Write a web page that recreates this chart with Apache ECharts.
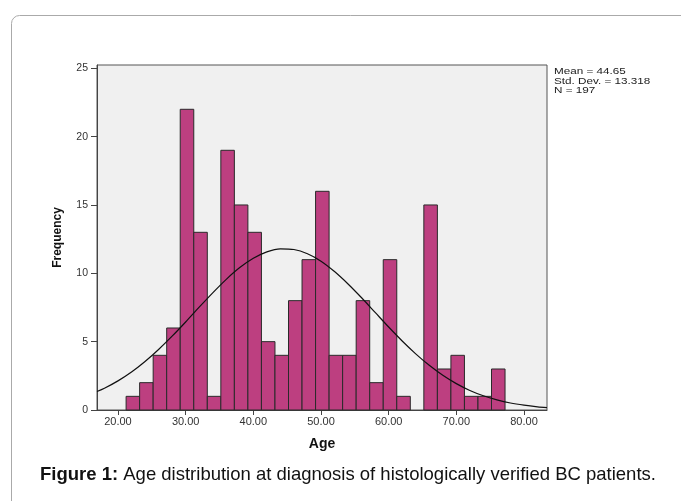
<!DOCTYPE html>
<html>
<head>
<meta charset="utf-8">
<script src="https://cdn.jsdelivr.net/npm/echarts@6/dist/echarts.min.js"></script>
<style>
  html, body { margin: 0; padding: 0; background: #fff; }
  #chart { width: 681px; height: 501px; }
</style>
</head>
<body>
<div id="chart"></div>
<script>
// bin lower edges (width 2 years) and counts
const binStart = [21.2, 23.2, 25.2, 27.2, 29.2, 31.2, 33.2, 35.2, 37.2, 39.2, 41.2, 43.2, 45.2, 47.2,
                  49.2, 51.2, 53.2, 55.2, 57.2, 59.2, 61.2, 63.2, 65.2, 67.2, 69.2, 71.2, 73.2, 75.2];
const binCount = [1, 2, 4, 6, 22, 13, 1, 19, 15, 13, 5, 4, 8, 11,
                  16, 4, 4, 8, 2, 11, 1, 0, 15, 3, 4, 1, 1, 3];
const binWidth = 2;

// normal curve, points
const curveAge  = [16.9, 18, 20, 22, 24, 26, 28, 30, 32, 34, 36, 38, 40, 42, 44, 46, 48, 50,
                   52, 54, 56, 58, 60, 62, 64, 66, 68, 70, 72, 74, 76, 78, 80, 82, 83.4];
const curveFreq = [1.35, 1.59, 2.13, 2.78, 3.55, 4.43, 5.40, 6.44, 7.52, 8.57, 9.56, 10.42, 11.10, 11.57, 11.79, 11.74, 11.43, 10.89,
                   10.13, 9.22, 8.21, 7.14, 6.07, 5.05, 4.11, 3.27, 2.54, 1.93, 1.43, 1.04, 0.74, 0.51, 0.35, 0.23, 0.17];

const xTicks = [20, 30, 40, 50, 60, 70, 80];
const yTicks = [0, 5, 10, 15, 20, 25];
const stats = ['Mean = 44.65', 'Std. Dev. = 13.318', 'N = 197'];

let bars = binStart.map(function (s, i) { return [s, s + binWidth, binCount[i]]; });
let curve = curveAge.map(function (a, i) { return [a, curveFreq[i]]; });

let myChart = echarts.init(document.getElementById('chart'));
let option = {
  animation: false,
  textStyle: { fontFamily: 'Liberation Sans, Arial, sans-serif' },
  grid: {
    left: 97, right: 134, top: 65, bottom: 91,
    show: true,
    backgroundColor: '#f0f0f0',
    borderColor: '#555',
    borderWidth: 1
  },
  xAxis: {
    type: 'value',
    min: 16.9, max: 83.4,
    name: 'Age',
    nameLocation: 'middle',
    nameGap: 27,
    nameTextStyle: { fontSize: 14, fontWeight: 'bold', color: '#111' },
    axisLine: { show: true, lineStyle: { color: '#444' } },
    axisTick: { show: true, length: 5, lineStyle: { color: '#444' }, customValues: xTicks },
    axisLabel: {
      customValues: xTicks, fontSize: 11, color: '#333', margin: 6,
      formatter: function (v) { return v.toFixed(2); }
    },
    splitLine: { show: false }
  },
  yAxis: {
    type: 'value',
    min: 0, max: 25.24,
    name: 'Frequency',
    nameLocation: 'middle',
    nameGap: 33,
    nameTextStyle: { fontSize: 12, fontWeight: 'bold', color: '#111' },
    axisLine: { show: true, lineStyle: { color: '#444' } },
    axisTick: { show: true, length: 6, lineStyle: { color: '#444' }, customValues: yTicks },
    axisLabel: { customValues: yTicks, fontSize: 10.5, color: '#333', margin: 9 },
    splitLine: { show: false }
  },
  series: [
    {
      type: 'custom',
      data: bars,
      encode: { x: [0, 1], y: 2 },
      renderItem: function (params, api) {
        let h = api.value(2);
        if (!h) return;
        let p0 = api.coord([api.value(0), 0]);
        let p1 = api.coord([api.value(1), h]);
        return {
          type: 'rect',
          shape: { x: p0[0], y: p1[1], width: p1[0] - p0[0], height: p0[1] - p1[1] },
          style: { fill: '#bd3f80', stroke: '#2a2a2a', lineWidth: 1 }
        };
      },
      z: 2
    },
    {
      type: 'line',
      data: curve,
      smooth: 0.3,
      showSymbol: false,
      lineStyle: { color: '#111', width: 1.2 },
      z: 3
    }
  ],
  graphic: [
    {
      type: 'rect',
      shape: { x: 11.5, y: 15.5, width: 720, height: 540, r: 8 },
      style: { fill: 'none', stroke: '#aaa', lineWidth: 1 },
      silent: true
    },
    {
      type: 'text',
      x: 554, y: 67,
      scaleX: 1.3,
      style: { text: stats.join('\n'), fontSize: 9, lineHeight: 9.5, fill: '#222', fontFamily: 'Liberation Sans, Arial, sans-serif' }
    },
    {
      type: 'text',
      left: 40, top: 465,
      style: {
        text: '{b|Figure 1:} Age distribution at diagnosis of histologically verified BC patients.',
        fontSize: 18.5, fill: '#111', fontFamily: 'Liberation Sans, Arial, sans-serif',
        rich: { b: { fontSize: 18.5, fontWeight: 'bold', fill: '#111', fontFamily: 'Liberation Sans, Arial, sans-serif' } }
      }
    }
  ]
};
myChart.setOption(option);
window.addEventListener('resize', function () {
  myChart.resize();
}, false);
</script>
</body>
</html>
